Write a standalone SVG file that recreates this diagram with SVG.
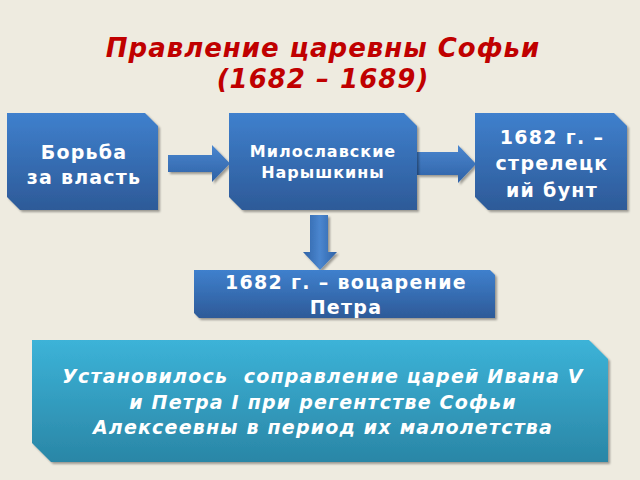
<svg xmlns="http://www.w3.org/2000/svg" width="640" height="480" viewBox="0 0 640 480">
<defs>
<linearGradient id="gb" x1="0" y1="0" x2="0" y2="1"><stop offset="0" stop-color="#3f80cd"/><stop offset="1" stop-color="#2d5a98"/></linearGradient>
<linearGradient id="gt" x1="0" y1="0" x2="0" y2="1"><stop offset="0" stop-color="#3cb3d8"/><stop offset="1" stop-color="#2a86a6"/></linearGradient>
<linearGradient id="ga" x1="0" y1="0" x2="0" y2="1"><stop offset="0" stop-color="#4a86cf"/><stop offset="1" stop-color="#2f62a6"/></linearGradient>
<linearGradient id="gd" x1="0" y1="0" x2="1" y2="0"><stop offset="0" stop-color="#2f62a6"/><stop offset="0.5" stop-color="#4a86cf"/><stop offset="1" stop-color="#2f62a6"/></linearGradient>
<filter id="sh" x="-5%" y="-5%" width="112%" height="120%"><feDropShadow dx="2" dy="2" stdDeviation="1" flood-color="#000" flood-opacity="0.35"/></filter>
</defs>
<style>
.bx{fill:url(#gb);filter:url(#sh)}
.tx{font-family:"DejaVu Sans",Verdana,sans-serif;font-weight:bold;fill:#fff;text-anchor:middle;white-space:pre}
.ar{fill:url(#ga);filter:url(#sh)}
</style>
<rect width="640" height="480" fill="#eeebe0"/>
<g id="title" font-family="'DejaVu Sans',Verdana,sans-serif" font-weight="bold" font-style="italic" fill="#c00000" font-size="26" letter-spacing="1" text-anchor="middle">
<text x="323" y="57">Правление царевны Софьи</text>
<text x="323" y="88">(1682 – 1689)</text>
</g>
<g id="connectors">
<path class="ar" d="M168,155 H212 V145 L230,163.5 L212,182 V172 H168 Z"/>
<path class="ar" d="M417,152 H458 V145 L476,164 L458,183 V175 H417 Z"/>
<path fill="url(#gd)" filter="url(#sh)" d="M310,215 H328 V252 H337 L320,270 L303,252 H310 Z"/>
</g>
<g id="n1">
<path class="bx" d="M7,113 H145 L158,126 V210 H20 L7,197 Z"/>
<text class="tx" font-size="19" letter-spacing="1.2" x="84" y="159">Борьба</text>
<text class="tx" font-size="19" letter-spacing="1.2" x="84" y="184">за власть</text>
</g>
<g id="n2">
<path class="bx" d="M229,113 H404 L417,126 V210 H242 L229,197 Z"/>
<text class="tx" font-size="16" letter-spacing="1" x="323" y="157">Милославские</text>
<text class="tx" font-size="16" letter-spacing="1" x="323" y="178">Нарышкины</text>
</g>
<g id="n3">
<path class="bx" d="M475,113 H614 L627,126 V210 H488 L475,197 Z"/>
<text class="tx" font-size="19" letter-spacing="1.3" x="552" y="144">1682 г. –</text>
<text class="tx" font-size="19" letter-spacing="1.3" x="552" y="170">стрелецк</text>
<text class="tx" font-size="19" letter-spacing="1.3" x="552" y="197">ий бунт</text>
</g>
<g id="n4">
<path class="bx" d="M194,270 H490 L495,275 V318 H199 L194,313 Z"/>
<text class="tx" font-size="19" letter-spacing="1.3" x="346" y="289">1682 г. – воцарение</text>
<text class="tx" font-size="19" letter-spacing="1.3" x="346" y="314">Петра</text>
</g>
<g id="n5">
<path fill="url(#gt)" filter="url(#sh)" d="M32,340 H589 L608,359 V462 H51 L32,443 Z"/>
<g font-style="italic">
<text class="tx" font-size="19" letter-spacing="1.2" x="323" y="383">Установилось  соправление царей Ивана V</text>
<text class="tx" font-size="19" letter-spacing="1.2" x="323" y="409">и Петра I при регентстве Софьи</text>
<text class="tx" font-size="19" letter-spacing="1.2" x="323" y="434">Алексеевны в период их малолетства</text>
</g>
</g>
</svg>
